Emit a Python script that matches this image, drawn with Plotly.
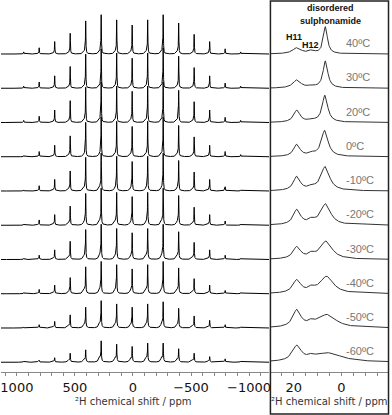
import numpy as np
import plotly.graph_objects as go

temps = ["40ºC", "30ºC", "20ºC", "0ºC", "-10ºC", "-20ºC", "-30ºC", "-40ºC", "-50ºC", "-60ºC"]

# left panel: spinning sidebands (order n, left to right) and their heights per temperature
sb_order = [7, 6, 5, 4, 3, 2, 1, 0, -1, -2, -3, -4, -5, -6, -7]
spin_ppm = 133.5
iso_ppm = 7.0
sb_40 = [2, 6, 12, 20, 32, 38, 33, 28, 33, 38, 30, 19, 12, 5, 2]
sb_30 = [2, 6, 12, 21, 33, 38, 34, 29, 34, 39, 31, 20, 12, 5, 2]
sb_20 = [2, 6, 12, 21, 34, 39, 35, 30, 35, 39, 31, 20, 12, 5, 2]
sb_0 = [1, 5, 11, 20, 33, 38, 34, 29, 34, 38, 30, 19, 11, 5, 2]
sb_m10 = [1, 5, 11, 19, 32, 36, 33, 28, 33, 36, 29, 18, 11, 4, 1]
sb_m20 = [1, 5, 10, 18, 30, 35, 31, 27, 31, 35, 28, 17, 10, 4, 1]
sb_m30 = [1, 4, 9, 17, 28, 33, 29, 25, 29, 33, 26, 16, 9, 4, 1]
sb_m40 = [1, 4, 8, 15, 25, 30, 27, 23, 27, 30, 24, 14, 8, 3, 1]
sb_m50 = [1, 3, 6, 12, 19, 25, 22, 19, 22, 24, 18, 11, 7, 3, 1]
sb_m60 = [1, 2, 4, 8, 11, 19, 16, 14, 17, 17, 12, 8, 5, 3, 1]
sb_heights = [sb_40, sb_30, sb_20, sb_0, sb_m10, sb_m20, sb_m30, sb_m40, sb_m50, sb_m60]
foot_frac = [0.08, 0.08, 0.09, 0.10, 0.12, 0.14, 0.16, 0.18, 0.22, 0.30]

# right panel: centre band lines
h11_ppm = 18.7
h12_ppm = 12.5
h11_height = [6, 8, 12, 12, 14, 15, 12, 13, 17, 15]
h11_width = [2.2, 2.0, 1.6, 1.6, 1.7, 1.8, 1.9, 2.0, 2.0, 2.2]
h12_height = [3, 2, 2, 2.5, 3, 4, 4, 4, 4, 3]
main_ppm = [6.7, 6.7, 6.9, 7.0, 6.8, 6.6, 6.4, 6.2, 6.0, 5.5]
main_height = [27, 27, 27, 26, 24, 21, 18, 17, 13, 9]
main_width = [1.0, 1.2, 1.4, 1.7, 2.2, 2.5, 3.0, 3.4, 4.5, 7.0]


def lor(x, x0, h, w):
    return h / (1 + ((x - x0) / w) ** 2)


W, H = 392, 415
bot = 43
plot_h = H - bot
row0 = 54
gap = 34.25

def px_y(p):
    return (plot_h - p) / plot_h

xl = np.arange(-1175, 1141, 0.5)
xr = np.arange(-20, 30, 0.1)

fig = go.Figure()
for i in range(len(temps)):
    off = plot_h - (row0 + gap * i)
    yl = np.zeros_like(xl)
    for n, h in zip(sb_order, sb_heights[i]):
        c = iso_ppm + n * spin_ppm
        yl += lor(xl, c, h, 2.0) + lor(xl, c + 12, h * foot_frac[i], 10.0)
    fig.add_trace(go.Scatter(x=xl, y=yl + off, mode="lines", xaxis="x", yaxis="y",
                             line=dict(color="#000", width=1), hoverinfo="skip"))
    yr = (lor(xr, h11_ppm, h11_height[i], h11_width[i])
          + lor(xr, h12_ppm, h12_height[i], 1.5)
          + lor(xr, main_ppm[i], main_height[i], main_width[i]))
    fig.add_trace(go.Scatter(x=xr, y=yr + off, mode="lines", xaxis="x2", yaxis="y",
                             line=dict(color="#333", width=1), hoverinfo="skip"))
    fig.add_annotation(x=-1.3, y=off + 11, xref="x2", yref="y", text=temps[i],
                       showarrow=False, xanchor="left", yanchor="middle",
                       font=dict(family="Liberation Sans", size=11, color="#777"))

axis_common = dict(showgrid=False, zeroline=False, showline=True, linecolor="#888", linewidth=1,
                   ticks="outside", ticklen=3, tickcolor="#888", anchor="y",
                   ticklabeloverflow="allow",
                   tickfont=dict(family="DejaVu Sans", size=13, color="#111"))
fig.update_layout(
    width=W, height=H, margin=dict(l=0, r=0, t=0, b=bot),
    paper_bgcolor="white", plot_bgcolor="white", showlegend=False,
    xaxis=dict(domain=[0, 270 / W], range=[1137, -1171], dtick=500,
               minor=dict(dtick=100, ticks="outside", ticklen=3, tickcolor="#888"), **axis_common),
    xaxis2=dict(domain=[272 / W, 390 / W], range=[29.6, -19.6], dtick=20,
                minor=dict(dtick=5, ticks="outside", ticklen=3, tickcolor="#888"), **axis_common),
    yaxis=dict(range=[0, plot_h], visible=False, fixedrange=True),
)

# box around right panel
fig.add_shape(type="rect", xref="paper", yref="paper", x0=271.5 / W, x1=390.5 / W,
              y0=px_y(414), y1=px_y(1), line=dict(color="#222", width=1.5))

title_font = dict(family="DejaVu Sans", size=10, color="#333")
for xp in [134, 331]:
    fig.add_annotation(x=xp / W, y=px_y(401), xref="paper", yref="paper", text="²H chemical shift / ppm",
                       showarrow=False, xanchor="center", yanchor="middle", font=title_font)

hdr = dict(family="Liberation Sans", size=9, color="#111")
for txt, xp, yp in [("disordered", 332, 8), ("sulphonamide", 332, 21), ("H11", 295, 37), ("H12", 312, 45)]:
    fig.add_annotation(x=xp / W, y=px_y(yp), xref="paper", yref="paper", text="<b>" + txt + "</b>",
                       showarrow=False, xanchor="center", yanchor="middle", font=hdr)

fig.write_html("out.html", config={"displayModeBar": False},
               post_script="document.body.style.margin='0';")
